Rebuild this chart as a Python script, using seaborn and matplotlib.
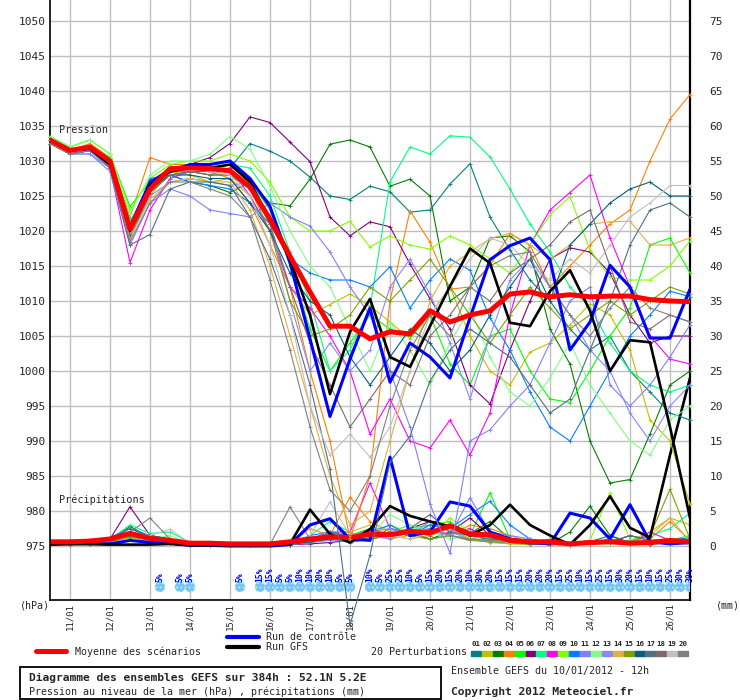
import numpy as np
import pandas as pd
import matplotlib
matplotlib.use("Agg")
import matplotlib.pyplot as plt
import seaborn as sns
from matplotlib.lines import Line2D
from matplotlib.patches import Rectangle

sns.set_style("white")
plt.rcParams['font.family'] = ['DejaVu Sans Mono', 'DejaVu Sans']
plt.rcParams['hatch.linewidth'] = 0.8

# forecast steps: every 12h from 10/01/2012 12h up to +384h
hours = np.arange(0, 385, 12)
date_hours = np.arange(12, 384, 24)
date_labels = [f"{d}/01" for d in range(11, 27)]

members = [f"{k:02d}" for k in range(1, 21)]
member_colors = ['#008080', '#c0c000', '#008000', '#ff8000', '#00ff00',
                 '#800080', '#00ff80', '#ff00ff', '#80ff00', '#0080ff',
                 '#8080ff', '#80ff80', '#8888ff', '#e0b040', '#80a000',
                 '#006080', '#507080', '#806870', '#c0c0c0', '#808080']

# sea level pressure (hPa) of the 20 perturbations
p01 = [1033.0, 1031.5, 1032.0, 1030.0, 1021.0, 1027.0, 1028.0, 1028.5, 1028.0, 1029.0,
       1032.5, 1031.4, 1030.0, 1027.7, 1025.0, 1024.5, 1026.4, 1025.6, 1022.7, 1023.0,
       1026.7, 1029.6, 1022.0, 1017.3, 1013.0, 1010.0, 1006.0, 1003.0, 1005.0, 1000.0,
       997.0, 994.0, 993.0]
p02 = [1032.5, 1031.0, 1031.5, 1029.5, 1019.0, 1025.0, 1028.5, 1028.0, 1027.0, 1027.5,
       1025.0, 1020.0, 1012.0, 1008.0, 1009.5, 1011.0, 1009.3, 1007.0, 1004.6, 1008.0,
       1012.0, 1005.0, 1000.0, 998.0, 1002.7, 1004.0, 1006.6, 1009.6, 1008.0, 1003.0,
       993.0, 990.0, 981.0]
p03 = [1033.0, 1031.0, 1031.5, 1029.0, 1019.0, 1025.5, 1028.0, 1027.0, 1026.5, 1025.5,
       1027.0, 1024.0, 1023.6, 1027.4, 1032.4, 1033.0, 1032.0, 1026.4, 1027.4, 1025.0,
       1010.0, 1012.0, 1019.0, 1019.3, 1017.0, 1006.0, 1001.0, 990.0, 984.0, 984.5,
       991.0, 998.0, 1000.0]
p04 = [1033.0, 1031.5, 1032.5, 1030.5, 1022.0, 1030.5, 1029.5, 1029.5, 1028.5, 1027.5,
       1024.0, 1018.0, 1012.0, 1000.0, 990.0, 976.0, 985.0, 1010.0, 1022.9, 1018.4,
       1011.7, 1012.0, 1015.1, 1019.6, 1018.0, 1012.0, 1015.0, 1018.0, 1021.0, 1023.0,
       1030.0, 1036.0, 1039.5]
p05 = [1033.5, 1032.0, 1033.0, 1031.0, 1023.5, 1027.0, 1029.0, 1029.0, 1029.5, 1030.0,
       1027.0, 1023.0, 1015.0, 1006.0, 1000.0, 1004.0, 1008.0, 1006.0, 1005.0, 1008.0,
       1001.0, 998.0, 1005.0, 1006.0, 1000.0, 996.0, 995.5, 1000.0, 1005.0, 1009.0,
       1018.0, 1019.0, 1014.0]
p06 = [1033.0, 1031.0, 1031.5, 1030.0, 1021.0, 1027.0, 1029.0, 1029.5, 1030.5, 1032.5,
       1036.3, 1035.5, 1032.7, 1029.9, 1022.0, 1019.3, 1021.3, 1020.6, 1015.3, 1010.3,
       1006.0, 998.0, 995.3, 1003.0, 1010.0, 1016.0, 1017.6, 1017.0, 1014.0, 1008.0,
       1004.0, 1005.0, 1005.0]
p07 = [1033.0, 1031.5, 1032.0, 1030.5, 1021.5, 1026.0, 1028.5, 1029.0, 1029.0, 1029.5,
       1029.0, 1025.0, 1017.0, 1010.0, 1000.0, 1003.0, 1009.0, 1027.0, 1032.0, 1031.0,
       1033.6, 1033.4, 1030.6, 1026.0, 1021.0, 1017.0, 1012.0, 1009.0, 1004.0, 1000.0,
       998.0, 997.0, 998.0]
p08 = [1032.5, 1031.0, 1031.5, 1029.0, 1015.5, 1023.0, 1027.5, 1028.5, 1028.5, 1029.0,
       1025.0, 1020.0, 1012.0, 1009.0, 1005.0, 1000.0, 991.0, 996.0, 990.0, 989.0,
       993.0, 988.0, 994.0, 1008.0, 1018.0, 1023.0, 1025.5, 1028.0, 1019.0, 1012.0,
       1005.0, 1001.7, 1001.0]
p09 = [1033.5, 1032.0, 1033.0, 1031.0, 1023.0, 1027.5, 1029.5, 1030.0, 1030.0, 1031.0,
       1030.0, 1027.0, 1022.0, 1020.0, 1020.0, 1021.4, 1017.7, 1019.3, 1018.0, 1017.4,
       1019.3, 1018.0, 1016.0, 1014.0, 1018.0, 1022.3, 1024.9, 1017.3, 1013.4, 1013.0,
       1013.0, 1015.0, 1018.6]
p10 = [1033.0, 1031.5, 1032.0, 1030.0, 1019.5, 1027.5, 1028.0, 1027.0, 1026.5, 1026.0,
       1024.0, 1021.0, 1016.0, 1014.0, 1013.0, 1013.0, 1012.0, 1014.9, 1009.0, 1013.0,
       1016.0, 1014.4, 1007.6, 1003.0, 997.0, 992.0, 990.0, 995.0, 1000.0, 1005.0,
       1008.0, 1011.4, 1010.6]
p11 = [1032.5, 1031.0, 1031.0, 1028.5, 1018.0, 1024.0, 1026.0, 1025.0, 1023.0, 1022.5,
       1022.0, 1024.0, 1022.0, 1020.7, 1017.0, 1012.0, 1008.0, 1000.0, 992.0, 981.0,
       974.0, 990.0, 991.6, 995.0, 998.0, 1004.0, 1010.0, 1012.0, 998.0, 995.0,
       998.0, 1002.0, 1006.6]
p12 = [1033.5, 1032.0, 1033.0, 1031.0, 1022.5, 1028.0, 1030.0, 1030.0, 1031.0, 1033.5,
       1031.7, 1026.4, 1020.0, 1015.0, 1012.0, 1006.0, 1000.0, 1007.0, 1003.0, 998.0,
       1004.0, 1009.0, 1002.0, 997.0, 995.0, 999.0, 1004.0, 998.0, 994.0, 990.0,
       988.0, 993.0, 995.0]
p13 = [1032.5, 1031.0, 1031.0, 1029.0, 1019.0, 1025.0, 1027.0, 1027.5, 1027.0, 1026.5,
       1027.0, 1021.0, 1010.0, 1000.0, 1004.0, 1000.0, 1003.0, 1012.0, 1016.0, 1011.0,
       1004.0, 996.0, 1005.0, 1013.0, 1016.0, 1012.0, 1008.0, 1003.0, 1000.0, 994.0,
       990.0, 995.0, 998.0]
p14 = [1032.5, 1031.0, 1031.5, 1029.0, 1019.0, 1024.5, 1027.0, 1027.5, 1027.0, 1027.0,
       1023.0, 1015.0, 1005.0, 995.0, 985.0, 978.0, 980.0, 990.0, 1000.0, 1010.0,
       1015.0, 1017.0, 1018.9, 1019.7, 1018.0, 1016.0, 1018.0, 1021.0, 1021.3, 1021.4,
       1018.0, 1018.0, 1019.0]
p15 = [1033.0, 1031.5, 1032.0, 1030.0, 1020.0, 1026.0, 1028.5, 1028.5, 1028.0, 1028.0,
       1026.0, 1020.0, 1010.0, 1005.0, 1006.0, 1008.0, 1012.0, 1010.0, 1013.0, 1016.0,
       1012.0, 1008.0, 1004.0, 1008.0, 1012.0, 1009.0, 1006.0, 1008.0, 1010.0, 1008.0,
       1010.0, 1012.0, 1011.0]
p16 = [1033.0, 1031.5, 1032.0, 1030.0, 1020.5, 1026.0, 1028.0, 1028.0, 1027.5, 1027.5,
       1024.0, 1020.0, 1014.0, 1010.0, 1008.0, 1002.0, 998.0, 1002.0, 1006.0, 1004.0,
       1000.0, 1003.0, 1008.0, 1012.0, 1016.0, 1010.0, 1018.0, 1021.0, 1024.0, 1026.0,
       1027.0, 1025.0, 1025.0]
p17 = [1032.5, 1031.0, 1031.5, 1029.0, 1018.0, 1019.5, 1026.0, 1027.0, 1027.0, 1026.5,
       1022.0, 1016.0, 1008.0, 998.0, 986.0, 963.7, 973.7, 987.0, 990.7, 998.6,
       1003.0, 1006.0, 1004.0, 1002.0, 998.0, 994.0, 996.0, 1003.0, 1010.0, 1018.0,
       1023.0, 1024.0, 1022.0]
p18 = [1033.0, 1031.0, 1031.5, 1029.5, 1019.5, 1025.5, 1028.0, 1028.5, 1028.0, 1028.0,
       1026.0, 1021.0, 1012.0, 1004.0, 998.0, 992.0, 996.0, 1000.0, 998.0, 1005.0,
       1008.0, 1012.0, 1010.0, 1014.0, 1016.0, 1018.0, 1021.3, 1023.0, 1015.0, 1007.0,
       1006.0, 1008.0, 1007.0]
p19 = [1033.0, 1031.5, 1032.0, 1030.0, 1020.0, 1026.0, 1028.5, 1029.0, 1028.5, 1028.0,
       1025.0, 1018.0, 1008.0, 995.0, 988.0, 991.0, 987.7, 992.0, 1000.0, 1008.0,
       1012.0, 1016.0, 1019.0, 1018.0, 1015.0, 1013.0, 1016.0, 1014.0, 1018.0, 1022.0,
       1024.0, 1026.5, 1026.5]
p20 = [1032.5, 1031.0, 1031.5, 1029.0, 1018.5, 1024.0, 1027.0, 1027.0, 1026.0, 1025.0,
       1022.0, 1013.0, 1003.0, 992.0, 983.0, 980.0, 985.0, 995.0, 1003.0, 1008.0,
       1005.0, 1012.0, 1015.0, 1016.5, 1017.0, 1012.0, 1008.0, 1005.0, 1009.0, 1012.0,
       1009.0, 1008.0, 1007.0]

# precipitation (mm) of the 20 perturbations
r01 = [0.3, 0.4, 0.3, 0.6, 2.0, 0.8, 0.5, 0.2, 0.2, 0.1, 0.1, 0.0, 0.2, 0.8, 1.5, 0.5, 1.0,
       2.5, 2.0, 1.0, 1.5, 0.8, 1.2, 0.5, 0.3, 0.2, 0.2, 0.6, 1.5, 0.3, 0.2, 0.5, 1.0]
r02 = [0.2, 0.3, 0.2, 0.5, 1.2, 0.6, 0.4, 0.2, 0.1, 0.1, 0.1, 0.0, 0.3, 1.0, 0.8, 1.2, 2.0,
       1.0, 1.5, 3.0, 2.5, 1.0, 0.5, 0.3, 0.2, 0.4, 0.2, 0.3, 0.5, 0.8, 2.0, 4.0, 3.0]
r03 = [0.3, 0.2, 0.3, 0.7, 2.8, 1.2, 0.5, 0.3, 0.4, 0.2, 0.1, 0.1, 0.2, 0.5, 1.0, 0.8, 1.2,
       2.0, 1.5, 1.0, 2.0, 1.8, 3.5, 1.0, 0.5, 0.3, 2.0, 5.7, 1.5, 0.5, 1.0, 0.6, 0.5]
r04 = [0.3, 0.3, 0.4, 0.8, 1.5, 1.0, 0.8, 0.4, 0.3, 0.2, 0.1, 0.1, 0.6, 2.5, 1.5, 7.0, 3.5,
       2.0, 1.5, 2.0, 1.5, 3.0, 2.5, 1.5, 0.5, 1.0, 0.5, 0.3, 0.4, 0.6, 1.0, 3.5, 0.8]
r05 = [0.4, 0.5, 0.3, 1.0, 1.2, 1.5, 1.0, 0.3, 0.2, 0.2, 0.1, 0.1, 0.3, 0.8, 2.0, 1.5, 2.5,
       1.5, 2.5, 3.0, 3.5, 1.5, 7.6, 1.0, 0.8, 0.5, 0.3, 0.6, 0.4, 0.3, 0.5, 0.8, 1.5]
r06 = [0.3, 0.5, 0.4, 1.0, 5.6, 1.5, 1.0, 0.3, 0.2, 0.1, 0.1, 0.1, 0.2, 0.3, 0.5, 0.8, 1.0,
       1.5, 2.5, 3.5, 2.0, 4.0, 1.5, 0.8, 0.5, 0.4, 0.3, 0.8, 0.5, 1.5, 0.8, 0.5, 0.3]
r07 = [0.3, 0.4, 0.3, 1.0, 3.0, 1.8, 2.0, 0.5, 0.3, 0.2, 0.1, 0.1, 0.3, 1.5, 3.5, 2.0, 1.0,
       2.0, 3.0, 1.5, 2.5, 1.0, 0.8, 0.5, 0.3, 0.2, 0.5, 0.3, 0.4, 0.8, 1.5, 2.5, 4.7]
r08 = [0.2, 0.3, 0.3, 0.8, 1.5, 0.8, 0.5, 0.2, 0.2, 0.1, 0.1, 0.1, 0.5, 1.0, 2.0, 2.0, 9.0,
       2.5, 1.5, 2.0, 1.8, 2.5, 1.0, 0.5, 0.3, 0.2, 0.3, 0.5, 0.4, 0.3, 2.0, 0.8, 0.4]
r09 = [0.3, 0.4, 0.4, 0.9, 1.8, 1.2, 0.8, 0.4, 0.3, 0.2, 0.1, 0.0, 0.3, 0.8, 1.5, 1.0, 1.5,
       3.0, 2.0, 1.5, 4.0, 2.0, 1.0, 0.6, 0.4, 0.3, 0.2, 0.8, 7.6, 1.0, 0.5, 0.4, 0.8]
r10 = [0.3, 0.6, 0.5, 1.2, 2.5, 1.5, 1.0, 0.5, 0.3, 0.3, 0.2, 0.1, 0.4, 1.5, 2.0, 1.5, 2.0,
       3.0, 1.5, 3.0, 2.5, 4.5, 6.4, 3.0, 1.0, 0.5, 0.4, 0.3, 0.5, 0.4, 0.6, 0.8, 1.2]
r11 = [0.5, 0.8, 0.9, 1.2, 1.5, 1.0, 1.0, 0.5, 0.4, 0.3, 0.2, 0.1, 0.3, 0.8, 1.0, 0.5, 1.5,
       1.0, 2.0, 2.5, 1.5, 6.9, 2.0, 1.5, 1.0, 0.5, 0.3, 0.5, 1.0, 0.6, 0.4, 0.5, 0.6]
r12 = [0.2, 0.3, 0.3, 0.6, 2.0, 1.0, 1.5, 0.3, 0.2, 0.2, 0.1, 0.0, 0.2, 0.6, 1.0, 0.8, 1.5,
       4.5, 3.0, 2.0, 1.0, 1.5, 0.6, 0.4, 0.3, 0.2, 0.5, 0.4, 0.3, 0.6, 1.0, 0.5, 0.4]
r13 = [0.4, 0.5, 0.8, 1.0, 1.6, 1.2, 0.8, 0.4, 0.3, 0.2, 0.2, 0.1, 0.2, 0.5, 0.8, 1.0, 2.0,
       2.5, 1.5, 3.5, 2.0, 1.0, 0.8, 0.5, 0.4, 0.3, 0.2, 0.4, 0.8, 0.5, 0.6, 0.4, 0.3]
r14 = [0.3, 0.3, 0.4, 0.7, 1.4, 0.8, 0.7, 0.3, 0.2, 0.2, 0.1, 0.1, 0.2, 2.5, 1.5, 2.0, 3.0,
       1.5, 1.0, 1.5, 2.5, 1.0, 1.8, 0.8, 0.5, 0.6, 0.3, 0.4, 0.5, 0.3, 1.5, 4.0, 0.6]
r15 = [0.2, 0.3, 0.3, 0.6, 1.3, 0.8, 0.5, 0.2, 0.2, 0.1, 0.1, 0.0, 0.2, 0.8, 1.2, 1.0, 1.0,
       1.5, 2.0, 1.0, 1.5, 0.8, 0.6, 0.4, 0.3, 0.2, 0.2, 0.3, 0.4, 0.6, 1.5, 8.1, 1.0]
r16 = [0.3, 0.4, 0.3, 0.8, 1.5, 1.0, 0.6, 0.3, 0.3, 0.2, 0.1, 0.1, 0.2, 0.6, 1.0, 1.2, 1.5,
       2.0, 1.5, 2.0, 1.5, 1.0, 0.8, 0.5, 0.3, 0.3, 0.2, 0.3, 0.5, 0.4, 0.3, 0.5, 0.4]
r17 = [0.3, 0.4, 0.3, 0.8, 2.5, 1.2, 0.8, 0.3, 0.2, 0.2, 0.1, 0.1, 0.3, 1.0, 1.8, 1.5, 2.0,
       1.5, 2.5, 4.5, 2.0, 1.5, 1.0, 0.8, 0.5, 0.4, 0.3, 0.5, 0.6, 1.5, 0.8, 0.6, 0.4]
r18 = [0.3, 0.3, 0.3, 0.7, 1.5, 0.9, 0.6, 0.3, 0.2, 0.2, 0.1, 0.1, 0.3, 0.8, 1.5, 1.2, 2.5,
       1.5, 2.0, 1.5, 3.0, 2.0, 1.5, 0.8, 0.4, 0.3, 0.3, 0.4, 0.5, 0.4, 0.5, 0.6, 0.5]
r19 = [0.3, 0.4, 0.3, 0.8, 1.8, 1.5, 2.4, 0.4, 0.3, 0.2, 0.2, 0.1, 0.5, 1.5, 6.3, 1.5, 2.0,
       1.5, 1.0, 2.0, 1.5, 1.0, 0.8, 0.5, 0.4, 0.3, 0.3, 0.5, 0.4, 0.6, 0.5, 0.4, 0.3]
r20 = [0.3, 0.4, 0.3, 0.8, 2.0, 4.0, 1.0, 0.3, 0.3, 0.2, 0.2, 0.2, 5.6, 1.0, 1.5, 1.0, 1.5,
       2.0, 1.5, 2.5, 1.5, 1.0, 0.8, 0.6, 0.4, 0.3, 0.2, 0.4, 0.5, 0.3, 0.4, 0.5, 0.4]

# control run, GFS run and ensemble mean
control_p = [1033.0, 1031.5, 1031.8, 1029.5, 1020.5, 1027.0, 1028.5, 1029.5, 1029.5, 1030.0,
             1027.5, 1023.5, 1015.5, 1004.6, 993.5, 1001.7, 1009.0, 998.4, 1004.0, 1002.0,
             999.0, 1007.6, 1015.9, 1017.9, 1019.0, 1015.9, 1003.0, 1007.0, 1015.1, 1012.0,
             1004.7, 1004.7, 1011.7]
gfs_p = [1033.0, 1031.5, 1031.8, 1029.5, 1020.0, 1026.5, 1028.5, 1029.0, 1029.0, 1029.5,
         1027.0, 1021.5, 1016.0, 1008.0, 996.7, 1005.6, 1010.3, 1002.0, 1000.6, 1006.4,
         1012.1, 1017.5, 1015.4, 1006.9, 1006.4, 1011.4, 1014.4, 1008.6, 1000.0, 1004.4,
         1004.1, 992.0, 979.0]
mean_p = [1033.0, 1031.5, 1032.0, 1030.0, 1020.3, 1026.0, 1028.9, 1029.0, 1028.9, 1028.6,
          1026.3, 1021.7, 1016.4, 1011.3, 1006.4, 1006.4, 1004.6, 1005.6, 1005.3, 1008.6,
          1007.0, 1008.0, 1008.6, 1011.0, 1011.3, 1010.6, 1010.9, 1010.6, 1010.7, 1010.7,
          1010.2, 1010.0, 1009.9]
control_r = [0.2, 0.3, 0.3, 0.3, 0.8, 0.5, 0.4, 0.1, 0.1, 0.0, 0.0, 0.0, 0.2, 3.0, 3.9, 1.0,
             0.8, 12.7, 1.5, 2.0, 6.3, 5.7, 2.0, 1.0, 0.5, 0.3, 4.7, 4.0, 1.0, 5.9, 0.6, 0.3, 0.5]
gfs_r = [0.3, 0.3, 0.3, 0.2, 0.2, 0.2, 0.3, 0.1, 0.1, 0.1, 0.1, 0.1, 0.3, 5.2, 1.7, 0.5,
         2.4, 5.7, 4.3, 3.5, 2.8, 1.5, 3.0, 5.9, 3.0, 1.5, 0.2, 3.0, 7.1, 2.6, 1.2, 13.0, 24.0]
mean_r = [0.6, 0.6, 0.7, 1.0, 1.8, 1.1, 0.8, 0.4, 0.4, 0.3, 0.3, 0.3, 0.6, 1.0, 1.3, 1.2,
          1.7, 1.6, 2.1, 1.9, 2.9, 1.7, 1.6, 0.8, 0.6, 0.6, 0.3, 0.5, 0.6, 0.4, 0.5, 0.8, 0.6]

# probability of snow (%), 6-hourly steps
snow_hours = [66, 78, 84, 114,
              126, 132, 138, 144, 150, 156, 162, 168, 174, 180,
              192, 198, 204, 210, 216, 222, 228, 234, 240, 246, 252, 258, 264, 270,
              276, 282, 288, 294, 300, 306, 312, 318, 324, 330, 336, 342, 348, 354,
              360, 366, 372, 378, 384]
snow_pct = [5, 5, 5, 5,
            15, 15, 5, 5, 10, 10, 20, 10, 5, 5,
            10, 5, 25, 25, 10, 5, 15, 20, 15, 20, 10, 30, 20, 15,
            15, 15, 20, 20, 20, 15, 25, 10, 15, 25, 15, 30, 20, 15,
            10, 15, 25, 30, 30]

press = [p01, p02, p03, p04, p05, p06, p07, p08, p09, p10,
         p11, p12, p13, p14, p15, p16, p17, p18, p19, p20]
rain = [r01, r02, r03, r04, r05, r06, r07, r08, r09, r10,
        r11, r12, r13, r14, r15, r16, r17, r18, r19, r20]

df = pd.DataFrame({
    'hour': np.tile(hours, len(members)),
    'hPa': np.concatenate(press),
    'mm': np.concatenate(rain),
    'member': np.repeat(members, len(hours)),
})
palette = dict(zip(members, member_colors))

W, H = 740, 700
fig = plt.figure(figsize=(W / 100, H / 100), dpi=100)
rect = [50 / W, 100 / H, 640 / W, 600 / H]
ax_mm = fig.add_axes(rect)   # precipitation, right axis (drawn below)
ax_p = fig.add_axes(rect)    # pressure, left axis (drawn on top)
ax_p.patch.set_alpha(0)

# precipitation
sns.lineplot(data=df, x='hour', y='mm', hue='member', palette=palette, estimator=None,
             lw=0.8, marker='+', markersize=3, legend=False, ax=ax_mm)
for ln in ax_mm.lines:
    ln.set_markeredgecolor(ln.get_color())
    ln.set_markeredgewidth(0.6)
sns.lineplot(x=hours, y=control_r, color='#0000ff', lw=2.2, ax=ax_mm)
sns.lineplot(x=hours, y=gfs_r, color='black', lw=1.9, ax=ax_mm)
sns.lineplot(x=hours, y=mean_r, color='#ff0000', lw=3.6, ax=ax_mm)

# snow probability strip
ax_mm.bar(snow_hours, 0.72, bottom=-5.3, width=6, color='#c8ffff', zorder=3)
ax_mm.scatter(snow_hours, [-5.86] * len(snow_hours), s=55, facecolor='#74c6f0',
              edgecolor='#c8ecff', linewidths=0, hatch='....', zorder=4)
for h, v in zip(snow_hours, snow_pct):
    ax_mm.text(h, -5.15, f"{v}%", rotation=90, ha='center', va='bottom',
               fontsize=5.8, color='#0000ff', fontweight='bold', zorder=5)

# pressure (the deepest member runs past the bottom of the frame, as in the original)
sns.lineplot(data=df, x='hour', y='hPa', hue='member', palette=palette, estimator=None,
             lw=0.8, marker='+', markersize=3, legend=False, ax=ax_p)
for ln in ax_p.lines:
    ln.set_markeredgecolor(ln.get_color())
    ln.set_markeredgewidth(0.6)
    ln.set_clip_on(False)
sns.lineplot(x=hours, y=control_p, color='#0000ff', lw=2.2, ax=ax_p)
sns.lineplot(x=hours, y=gfs_p, color='black', lw=1.9, ax=ax_p)
sns.lineplot(x=hours, y=mean_p, color='#ff0000', lw=3.6, ax=ax_p)

# axes: 7 px per hPa / mm, 975 hPa = 0 mm at 546 px from top
for a in (ax_mm, ax_p):
    a.set_xlim(0, 384)
    a.set_xlabel('')
    a.set_ylabel('')
ax_p.set_ylim(975 - 54 / 7, 975 + 546 / 7)
ax_mm.set_ylim(-54 / 7, 546 / 7)

ax_mm.set_xticks(date_hours, labels=date_labels)
ax_mm.tick_params(axis='x', length=0, pad=2, labelsize=6.5, labelrotation=90)
ax_mm.yaxis.tick_right()
ax_mm.set_yticks(range(0, 80, 5))
ax_mm.tick_params(axis='y', length=0, pad=14, labelsize=8)
ax_mm.grid(True, color='#c0c0c0', lw=1)
ax_mm.set_axisbelow(True)
for side in ('left', 'right', 'bottom'):
    ax_mm.spines[side].set_color('black')
ax_mm.spines['left'].set_linewidth(1.2)
ax_mm.spines['right'].set_linewidth(1.6)
ax_mm.spines['bottom'].set_linewidth(1.2)
ax_mm.spines['top'].set_visible(False)

ax_p.set_xticks([])
ax_p.set_yticks(range(975, 1055, 5))
ax_p.tick_params(axis='y', length=0, pad=3, labelsize=8)
for s in ax_p.spines.values():
    s.set_visible(False)


def px(x, y):
    return x / W, 1 - y / H


fig.text(*px(59, 130), 'Pression', fontsize=7.3, va='center')
fig.text(*px(59, 500), 'Précipitations', fontsize=7.3, va='center')
fig.text(*px(20, 606), '(hPa)', fontsize=7.2, va='center')
fig.text(*px(716, 606), '(mm)', fontsize=7.2, va='center')

# legend
fig.add_artist(Line2D([36 / W, 66 / W], [1 - 651 / H] * 2, color='#ff0000', lw=3.6))
fig.text(*px(75, 652), 'Moyenne des scénarios', fontsize=7.2, va='center')
fig.add_artist(Line2D([227 / W, 259 / W], [1 - 637 / H] * 2, color='#0000ff', lw=3))
fig.text(*px(266, 637), 'Run de contrôle', fontsize=7.2, va='center')
fig.add_artist(Line2D([227 / W, 259 / W], [1 - 647 / H] * 2, color='black', lw=3))
fig.text(*px(266, 647), 'Run GFS', fontsize=7.2, va='center')
fig.text(*px(371, 652), '20 Perturbations', fontsize=7.2, va='center')
for k, (m, c) in enumerate(zip(members, member_colors)):
    x0 = 471 + 10.9 * k
    fig.add_artist(Rectangle((x0 / W, 1 - 656 / H), 10 / W, 5.5 / H, color=c,
                             transform=fig.transFigure))
    fig.text(*px(x0 + 5, 644), m, fontsize=5.3, ha='center', va='center', fontweight='bold')

# title box
fig.add_artist(Rectangle((20 / W, 1 / H), 421 / W, 32 / H, fill=False, lw=1.3,
                         edgecolor='black', transform=fig.transFigure))
fig.text(*px(29, 678), 'Diagramme des ensembles GEFS sur 384h : 52.1N 5.2E',
         fontsize=8.1, fontweight='bold', va='center')
fig.text(*px(29, 692), 'Pression au niveau de la mer (hPa) , précipitations (mm)',
         fontsize=7.2, va='center')
fig.text(*px(451, 671), 'Ensemble GEFS du 10/01/2012 - 12h', fontsize=7.2, va='center')
fig.text(*px(451, 692), 'Copyright 2012 Meteociel.fr', fontsize=8.1,
         fontweight='bold', va='center')

fig.savefig('out.png', dpi=100, facecolor='white')
